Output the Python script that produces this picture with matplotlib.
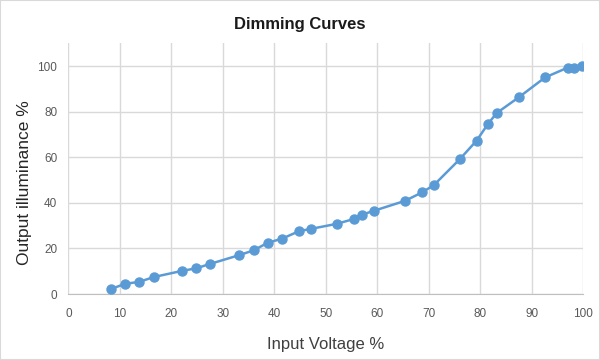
import matplotlib
matplotlib.use('Agg')
import matplotlib.pyplot as plt
from matplotlib.patches import Rectangle

# data
voltage = [8.2, 11.0, 13.8, 16.6, 22.1, 24.8, 27.6, 33.2, 36.0, 38.7, 41.5, 44.8, 47.1,
           52.1, 55.4, 57.0, 59.3, 65.4, 68.7, 71.0, 76.0, 79.3, 81.5, 83.2, 87.5,
           92.6, 97.0, 98.2, 99.8]
illuminance = [2.2, 4.5, 5.4, 7.5, 10.2, 11.3, 13.3, 17.1, 19.2, 22.5, 24.3, 27.6, 28.6,
               30.8, 32.9, 34.8, 36.5, 40.9, 44.6, 47.8, 59.1, 67.3, 74.6, 79.4, 86.3,
               95.0, 99.3, 99.3, 99.9]
xticks = list(range(0, 101, 10))
yticks = list(range(0, 101, 20))

plt.rcParams['font.family'] = ['Liberation Sans', 'DejaVu Sans']

fig = plt.figure(figsize=(6, 3.6), dpi=100)
ax = fig.add_axes([0.114, 0.183, 0.858, 0.697])

blue = '#5b9bd5'
ax.plot(voltage, illuminance, color=blue, linewidth=1.8, marker='o',
        markersize=6.5, markerfacecolor=blue, markeredgecolor=blue, zorder=3)

ax.set_xlim(0, 100)
ax.set_ylim(0, 110)
ax.set_xticks(xticks)
ax.set_yticks(yticks)
ax.grid(True, color='#d9d9d9', linewidth=1)
ax.set_axisbelow(True)
for s in ['top', 'right', 'left']:
    ax.spines[s].set_visible(False)
ax.spines['bottom'].set_color('#bfbfbf')
ax.tick_params(length=0, labelsize=8.5, colors='#595959')
ax.tick_params(axis='x', pad=10)
ax.tick_params(axis='y', pad=8)

ax.set_xlabel('Input Voltage %', fontsize=12, color='#404040', labelpad=12)
ax.set_ylabel('Output illuminance %', fontsize=12.5, color='#262626')
ax.yaxis.set_label_coords(-0.07, 0.445)
fig.text(0.5, 0.933, 'Dimming Curves', ha='center', va='center',
         fontsize=12, fontweight='bold', color='#1a1a1a')

fig.patches.append(Rectangle((0, 0), 1, 1, transform=fig.transFigure,
                             fill=False, edgecolor='#d9d9d9', linewidth=1.5))

plt.savefig('out.png', dpi=100)
